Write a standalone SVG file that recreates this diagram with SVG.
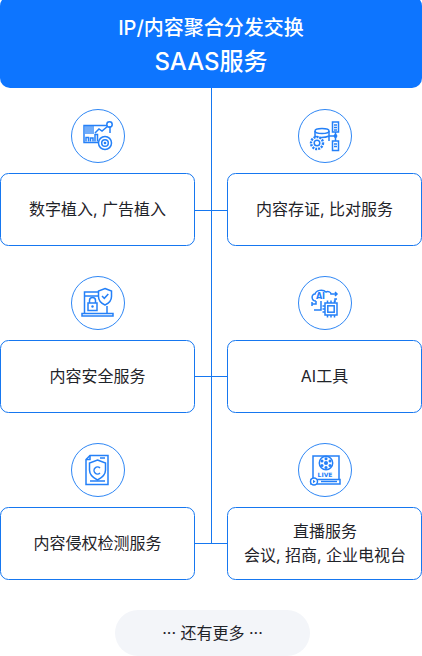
<svg xmlns="http://www.w3.org/2000/svg" width="422" height="656" viewBox="0 0 422 656">
<style>
text{font-family:"Inter","Noto Sans CJK SC",sans-serif;text-anchor:middle}
.t{font-size:16px;fill:#1f2329}
.card{fill:#fff;stroke:#1677f0;stroke-width:1}
.c{fill:#fff;stroke:#2f87f5;stroke-width:1}
.i{fill:none;stroke:#2480f8;stroke-width:1.500}
.f{fill:#2480f8;stroke:none}
.l{fill:none;stroke:#1677f0;stroke-width:1}
</style>
<rect width="422" height="656" fill="#fff"/>
<g id="connectors">
<path class="l" d="M211.500 88V543M195 210.500H227M195 376.500H227M195 543.500H227"/>
</g>
<g id="top">
<rect x="0" y="-4" width="422" height="92" rx="10" fill="#0d75ff"/>
<text x="211" y="35" font-size="20" font-weight="500" fill="#fff">IP/内容聚合分发交换</text>
<text x="211" y="70" font-size="24" font-weight="500" fill="#fff">SAAS服务</text>
</g>
<g id="node-digital">
<circle class="c" cx="98" cy="136" r="26.500"/>
<path class="i" d="M110 126V133M107 125.500H84V142.500H98"/>
<rect class="f" x="85" y="126" width="9" height="8" opacity=".65"/>
<path class="i" d="M86 141.500v-4h2.500v4M90.500 141.500v-3.500h2.500v3.500M95 141.500v-7h2.500v7M95 133l4-4 3 2 6-5"/>
<circle class="i" cx="109.500" cy="124.500" r="2.700"/>
<circle class="i" cx="105" cy="143" r="6.500"/>
<circle class="i" cx="105" cy="143" r="3.300"/>
<circle class="f" cx="105" cy="143" r="1.300"/>
</g>
<g id="node-evidence">
<circle class="c" cx="325" cy="136" r="26.500"/>
<ellipse class="i" cx="322" cy="131" rx="7" ry="2.500"/>
<path class="i" d="M315 131V142M329 131V141M315 136c2 2 10 2 14 0M329 136H335.500"/>
<rect class="i" x="332.500" y="122" width="6" height="10"/>
<rect class="i" x="332.500" y="141" width="6" height="9.500"/>
<path class="i" d="M335.500 132V141M334 125h3M334 127.500h3M334 130h3M334 144h3M334 146.500h3"/>
<circle class="f" cx="335.500" cy="136" r="1.900"/>
<circle cx="317" cy="143" r="6" fill="#fff" stroke="#2480f8" stroke-width="2.400" stroke-dasharray="2 1"/>
<circle class="i" cx="317" cy="143" r="2.800"/>
</g>
<g id="node-security">
<circle class="c" cx="98" cy="303" r="26.500"/>
<path class="i" d="M98 292H84.500V313M84 296H98M107 306V313M82 313.500H113V316H82Z"/>
<path fill="#fff" stroke="#2480f8" stroke-width="1.500" d="M105 288.500l6.500 2.500v5.500c0 4-3 7-6.500 8.500c-3.500-1.500-6.500-4.500-6.500-8.500V291Z"/>
<path class="i" d="M102 296l2.300 2.300 4-4.300"/>
<rect fill="#fff" stroke="#2480f8" stroke-width="1.500" x="88" y="303" width="9" height="7.500"/>
<path class="i" d="M89.500 303v-2.500a3 3 0 0 1 6 0V303"/>
<circle class="f" cx="92.500" cy="306.500" r="1.200"/>
</g>
<g id="node-ai">
<circle class="c" cx="325" cy="303" r="26.500"/>
<path class="i" d="M316 301c-5 0-5-7-1-7c1-4 8-5 11-2c2-1 5 0 5 2H336M335 292l2 2-2 2M316 301v3h-4M321 301v9h-7M312 302v4M335 302v-3h2"/>
<text x="320.500" y="299" font-size="8" font-weight="700" fill="#2480f8" style="font-family:'DejaVu Sans',sans-serif">AI</text>
<rect class="i" x="325" y="303" width="12" height="12"/>
<rect class="i" x="327.800" y="305.800" width="6.400" height="6.400"/>
<path class="i" d="M327.500 300.500v2.500M331 300.500v2.500M334.500 300.500v2.500M327.500 315v2.500M331 315v2.500M334.500 315v2.500M322.500 306h2.500M322.500 309h2.500M322.500 312h2.500"/>
</g>
<g id="node-infringement">
<circle class="c" cx="98" cy="470" r="26.500"/>
<path class="i" d="M90 455.500H108V484.500H86V459.500Z" stroke-width="1.800"/>
<path class="i" d="M90 455.500V459.500H86"/>
<path class="i" d="M97.500 460l8 3v7c0 5-4 8-8 10c-4-2-8-5-8-10v-7Z"/>
<path class="i" d="M100 468a3.500 3.500 0 1 0 0 5" stroke-width="1.500"/>
<path class="i" d="M100 458h5M90 481h15"/>
</g>
<g id="node-live">
<circle class="c" cx="325" cy="470" r="26.500"/>
<path class="i" d="M313 479V456H339V479"/>
<circle class="i" cx="326" cy="463" r="6.700"/>
<circle class="f" cx="326" cy="463" r="2"/>
<circle class="f" cx="326" cy="458.800" r="1.500"/><circle class="f" cx="322" cy="461" r="1.500"/><circle class="f" cx="330" cy="461" r="1.500"/><circle class="f" cx="322" cy="465.500" r="1.500"/><circle class="f" cx="330" cy="465.500" r="1.500"/><circle class="f" cx="326" cy="467.500" r="1.500"/>
<text x="325" y="477" font-size="6" font-weight="700" fill="#2480f8" style="font-family:'DejaVu Sans',sans-serif">LIVE</text>
<rect class="i" x="311" y="479.500" width="29" height="4.500"/>
<circle fill="#fff" stroke="#2480f8" stroke-width="1.500" cx="314" cy="481.500" r="3.500"/>
<path class="f" d="M313 479.800l2.500 1.700-2.500 1.700Z"/>
<path class="i" d="M321 481.500H337"/>
</g>
<g id="node-1"><rect class="card" x=".5" y="173.500" width="194" height="72" rx="8"/><text class="t" x="97.500" y="215">数字植入, 广告植入</text></g>
<g id="node-2"><rect class="card" x="227.500" y="173.500" width="194" height="72" rx="8"/><text class="t" x="324.500" y="215">内容存证, 比对服务</text></g>
<g id="node-3"><rect class="card" x=".5" y="340.500" width="194" height="72" rx="8"/><text class="t" x="97.500" y="382">内容安全服务</text></g>
<g id="node-4"><rect class="card" x="227.500" y="340.500" width="194" height="72" rx="8"/><text class="t" x="324.500" y="382">AI工具</text></g>
<g id="node-5"><rect class="card" x=".5" y="507.500" width="194" height="72" rx="8"/><text class="t" x="97.500" y="549">内容侵权检测服务</text></g>
<g id="node-6"><rect class="card" x="227.500" y="507.500" width="194" height="72" rx="8"/><text class="t" x="325" y="537">直播服务</text><text class="t" x="325" y="561">会议, 招商, 企业电视台</text></g>
<g id="more"><rect x="115" y="610" width="195" height="46" rx="23" fill="#f3f5f9"/><text class="t" x="212.500" y="639">··· 还有更多 ···</text></g>
</svg>
